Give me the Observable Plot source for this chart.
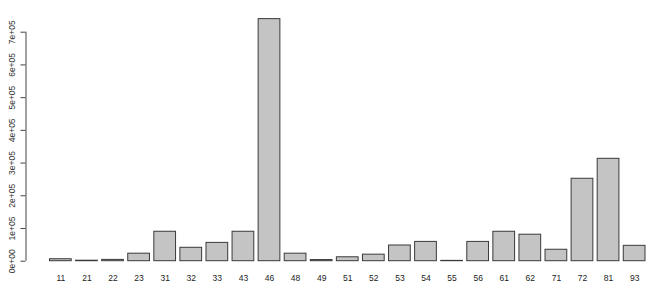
<!DOCTYPE html>
<html>
<head>
<meta charset="utf-8">
<script src="https://cdn.jsdelivr.net/npm/d3@7"></script>
<script src="https://cdn.jsdelivr.net/npm/@observablehq/plot@0.6"></script>
<style>
  html, body { margin: 0; padding: 0; background: #fff; }
  svg { overflow: visible; }
</style>
</head>
<body>
<div id="chart"></div>
<script>
const categories = ["11","21","22","23","31","32","33","43","46","48","49","51","52","53","54","55","56","61","62","71","72","81","93"];
const values = [6000,1500,4000,23000,90000,41000,56000,90000,740000,23000,3500,12000,20000,48000,59000,1000,59000,90000,81000,35000,252000,313000,47000];
const yTicks = [0,100000,200000,300000,400000,500000,600000,700000];
const yTickLabels = ["0e+00","1e+05","2e+05","3e+05","4e+05","5e+05","6e+05","7e+05"];

// R barplot layout: bar width 1, space 0.2 (user coordinates)
const space = 0.2;
const data = categories.map((c, i) => ({
  cat: c,
  value: values[i],
  x1: space + i * (1 + space),
  x2: space + i * (1 + space) + 1,
  xc: space + i * (1 + space) + 0.5
}));

const n = categories.length;
const xMin = space - 0.04 * (n * (1 + space));      // R's 4% extension of the x range
const xMax = n * (1 + space) + 0.23;
const ticks = yTicks.map((v, i) => ({v, label: yTickLabels[i], x: xMin}));

const chart = Plot.plot({
  width: 650,
  height: 287,
  marginLeft: 25.5,
  marginRight: 0,
  marginTop: 31.7,
  marginBottom: 26.3,
  style: {fontFamily: "Liberation Sans, Arial, sans-serif", fontSize: "8.5px", color: "#222", background: "#fff"},
  x: {type: "linear", domain: [xMin, xMax], axis: null},
  y: {type: "linear", domain: [0, 700000], axis: null},
  marks: [
    Plot.rectY(data, {x1: "x1", x2: "x2", y: "value", fill: "#c4c4c4", stroke: "#3a3a3a", strokeWidth: 1}),
    Plot.text(data, {x: "xc", text: "cat", frameAnchor: "bottom", lineAnchor: "middle", dy: 17, fontSize: 8.5, fill: "#222"}),
    Plot.ruleX([xMin], {y1: 0, y2: 700000, stroke: "#444", strokeWidth: 1}),
    Plot.axisY({ticks: yTicks, tickSize: 5, tickFormat: () => "", label: null, stroke: "#444", strokeWidth: 1}),
    Plot.text(ticks, {x: "x", y: "v", text: "label", textAnchor: "middle", dx: -14, rotate: -90, fontSize: 8.5, fill: "#333"})
  ]
});
document.getElementById("chart").appendChild(chart);
</script>
</body>
</html>
